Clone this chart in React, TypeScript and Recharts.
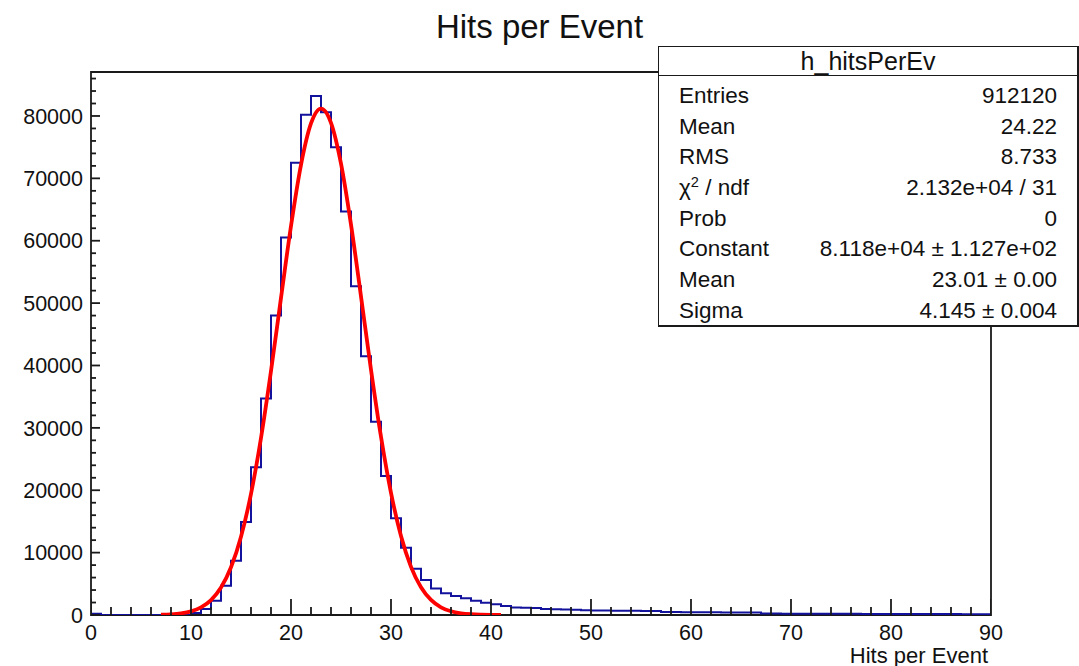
import React from 'react';
import { ComposedChart, Line, Scatter, XAxis, YAxis, ReferenceArea } from 'recharts';

const FONT = '"Liberation Sans", Arial, Helvetica, sans-serif';

// bin lower edges (width 1) plus the final upper edge 90
const binEdges = [
  0, 1, 2, 3, 4, 5, 6, 7, 8, 9, 10, 11, 12, 13, 14, 15, 16, 17, 18, 19,
  20, 21, 22, 23, 24, 25, 26, 27, 28, 29, 30, 31, 32, 33, 34, 35, 36, 37, 38, 39,
  40, 41, 42, 43, 44, 45, 46, 47, 48, 49, 50, 51, 52, 53, 54, 55, 56, 57, 58, 59,
  60, 61, 62, 63, 64, 65, 66, 67, 68, 69, 70, 71, 72, 73, 74, 75, 76, 77, 78, 79,
  80, 81, 82, 83, 84, 85, 86, 87, 88, 89, 90,
];

// contents of each bin [edge, edge+1)
const hitCounts = [
  200, 0, 0, 0, 0, 0, 0, 0, 0, 40,
  320, 960, 2300, 4700, 8700, 14900, 23700, 34700, 48000, 60500,
  72500, 80200, 83200, 80600, 75000, 64700, 52700, 41500, 31000, 22300,
  15500, 10800, 7400, 5600, 4250, 3470, 3040, 2670, 2300, 1980,
  1710, 1440, 1220, 1170, 1130, 950, 920, 890, 860, 760,
  740, 720, 700, 690, 670, 650, 640, 480, 470, 460,
  450, 440, 430, 420, 410, 405, 400, 230, 225, 220,
  215, 210, 205, 200, 195, 190, 185, 180, 175, 170,
  165, 160, 155, 150, 148, 145, 142, 140, 137, 135,
];

// gaussian fit curve
const fitX = [
  7, 8, 9, 10, 11, 12, 13, 14, 15, 16, 17, 18, 19, 20, 21, 22, 23, 24,
  25, 26, 27, 28, 29, 30, 31, 32, 33, 34, 35, 36, 37, 38, 39, 40, 41,
];
const fitY = [
  47, 115, 268, 589, 1220, 2383, 4394, 7644, 12546, 19426, 28372, 39102, 50839, 62365, 72174, 78806, 81180, 78897,
  72343, 62582, 51076, 39333, 28574, 19584, 12664, 7724, 4447, 2415, 1237, 598, 273, 117, 48, 18, 7,
];

const xTicks = [
  0, 2, 4, 6, 8, 10, 12, 14, 16, 18, 20, 22, 24, 26, 28, 30, 32, 34, 36, 38, 40, 42, 44,
  46, 48, 50, 52, 54, 56, 58, 60, 62, 64, 66, 68, 70, 72, 74, 76, 78, 80, 82, 84, 86, 88, 90,
];
const xMajorTicks = [0, 10, 20, 30, 40, 50, 60, 70, 80, 90];

const yTicks = [
  0, 2000, 4000, 6000, 8000, 10000, 12000, 14000, 16000, 18000, 20000, 22000, 24000, 26000,
  28000, 30000, 32000, 34000, 36000, 38000, 40000, 42000, 44000, 46000, 48000, 50000, 52000,
  54000, 56000, 58000, 60000, 62000, 64000, 66000, 68000, 70000, 72000, 74000, 76000, 78000,
  80000, 82000, 84000, 86000,
];
const yMajorTicks = [0, 10000, 20000, 30000, 40000, 50000, 60000, 70000, 80000];

const statNames = ['Entries', 'Mean', 'RMS', 'χ2 / ndf', 'Prob', 'Constant', 'Mean', 'Sigma'];
const statValues = [
  '912120', '24.22', '8.733', '2.132e+04 / 31', '0',
  '8.118e+04 ± 1.127e+02', '23.01 ± 0.00', '4.145 ± 0.004',
];

const histPoints = binEdges.map((e, i) => ({
  x: e,
  count: i < hitCounts.length ? hitCounts[i] : hitCounts[hitCounts.length - 1],
}));
const fitPoints = fitX.map((x, i) => ({ x, fit: fitY[i] }));
const xTickPoints = xTicks.map((t) => ({ x: t, mark: 0, major: xMajorTicks.includes(t) }));
const yTickPoints = yTicks.map((t) => ({ x: 0, mark: t, major: yMajorTicks.includes(t) }));

const X_MIN = 0;
const X_MAX = 90;
const Y_MAX = 87050;
const LABEL_SIZE = 21.5;
const INK = '#1a1a1a';

const XTick = (props: any) => {
  const { x, y, payload } = props;
  const v = payload.value;
  if (!xMajorTicks.includes(v)) return <g />;
  return (
    <text x={x} y={y + 24.5} textAnchor="middle" fontSize={LABEL_SIZE} fontFamily={FONT} fill="#111">
      {v}
    </text>
  );
};

const YTick = (props: any) => {
  const { x, y, payload } = props;
  const v = payload.value;
  if (!yMajorTicks.includes(v)) return <g />;
  return (
    <text x={x - 8} y={y} dy="0.36em" textAnchor="end" fontSize={LABEL_SIZE} fontFamily={FONT} fill="#111">
      {v}
    </text>
  );
};

const XTickMark = (props: any) => {
  const { cx, cy, payload } = props;
  const len = payload && payload.major ? 16 : 8;
  return <path d={`M${cx},${cy}V${cy - len}`} stroke={INK} strokeWidth={1.8} fill="none" />;
};

const YTickMark = (props: any) => {
  const { cx, cy, payload } = props;
  const len = payload && payload.major ? 9 : 5;
  return <path d={`M${cx},${cy}H${cx + len}`} stroke={INK} strokeWidth={1.8} fill="none" />;
};

const renderName = (name: string) => {
  if (name.startsWith('χ2')) {
    return (
      <span>
        χ<sup style={{ fontSize: '0.65em', verticalAlign: '0.55em', lineHeight: 0 }}>2</sup>
        {name.slice(2)}
      </span>
    );
  }
  return <span>{name}</span>;
};

export default function App() {
  return (
    <div style={{ position: 'absolute', left: 0, top: 0, width: 1079, height: 666, background: '#fff', fontFamily: FONT }}>
      <ComposedChart width={1079} height={666} margin={{ top: 72, right: 88, bottom: 0, left: 0 }}>
        <XAxis
          dataKey="x"
          type="number"
          domain={[X_MIN, X_MAX]}
          ticks={xTicks}
          interval={0}
          tick={<XTick />}
          tickLine={false}
          axisLine={false}
          tickSize={0}
          tickMargin={0}
          height={51}
          allowDataOverflow
        />
        <YAxis
          type="number"
          domain={[0, Y_MAX]}
          ticks={yTicks}
          interval={0}
          tick={<YTick />}
          tickLine={false}
          axisLine={false}
          tickSize={0}
          tickMargin={0}
          width={91}
          allowDataOverflow
        />
        <ReferenceArea x1={X_MIN} x2={X_MAX} y1={0} y2={Y_MAX} fill="none" fillOpacity={0} stroke={INK} strokeWidth={1.8} />
        <Scatter data={xTickPoints} dataKey="mark" shape={<XTickMark />} isAnimationActive={false} />
        <Scatter data={yTickPoints} dataKey="mark" shape={<YTickMark />} isAnimationActive={false} />
        <Line
          data={histPoints}
          dataKey="count"
          type="stepAfter"
          stroke="#12129c"
          strokeWidth={2}
          dot={false}
          activeDot={false}
          isAnimationActive={false}
        />
        <Line
          data={fitPoints}
          dataKey="fit"
          type="monotone"
          stroke="#ff0000"
          strokeWidth={3.8}
          dot={false}
          activeDot={false}
          isAnimationActive={false}
        />
      </ComposedChart>

      <div
        style={{
          position: 'absolute',
          left: 0,
          top: 10,
          width: 1079,
          textAlign: 'center',
          fontSize: 33,
          lineHeight: '33px',
          color: '#111',
        }}
      >
        Hits per Event
      </div>

      <div
        style={{
          position: 'absolute',
          right: 91,
          top: 647,
          fontSize: 22,
          lineHeight: '18px',
          color: '#111',
          whiteSpace: 'nowrap',
        }}
      >
        Hits per Event
      </div>

      <div
        style={{
          position: 'absolute',
          left: 658,
          top: 46,
          width: 421,
          height: 281,
          border: '1px solid ' + INK,
          borderRightWidth: 2,
          borderBottomWidth: 2,
          boxSizing: 'border-box',
          background: '#fff',
          color: '#111',
        }}
      >
        <div
          style={{
            height: 28,
            borderBottom: '1px solid ' + INK,
            textAlign: 'center',
            fontSize: 25,
            lineHeight: '28px',
          }}
        >
          h_hitsPerEv
        </div>
        <div style={{ position: 'absolute', left: 20, right: 20, top: 34 }}>
          {statNames.map((n, i) => (
            <div
              key={i}
              style={{
                display: 'flex',
                justifyContent: 'space-between',
                height: 30.7,
                lineHeight: '30.7px',
                fontSize: 22.5,
                whiteSpace: 'nowrap',
              }}
            >
              {renderName(n)}
              <span>{statValues[i]}</span>
            </div>
          ))}
        </div>
      </div>
    </div>
  );
}
